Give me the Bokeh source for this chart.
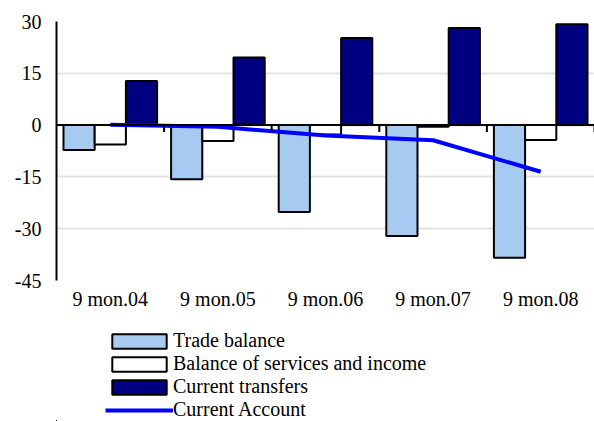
from bokeh.plotting import figure
from bokeh.layouts import column
from bokeh.models import (Range1d, FixedTicker, Span, Legend, LegendItem,
                          ColumnDataSource)
from bokeh.transform import dodge
from bokeh.embed import file_html
from bokeh.resources import INLINE

categories = ["9 mon.04", "9 mon.05", "9 mon.06", "9 mon.07", "9 mon.08"]
trade_balance = [-7.2, -15.7, -25.2, -32.1, -38.4]
services_income = [-5.6, -4.6, -2.7, -0.5, -4.3]
current_transfers = [12.8, 19.6, 25.2, 28.1, 29.2]
current_account = [0.1, -0.5, -3.0, -4.4, -13.5]
y_ticks = [-45, -30, -15, 0, 15, 30]
y_tick_labels = ["-45", "-30", "-15", "0", "15", "30"]
series_names = ["Trade balance", "Balance of services and income",
                "Current transfers", "Current Account"]

FONT = "Liberation Serif"
FS = "20px"
C_TB, C_SI, C_CT, C_CA = "#A6CAF0", "white", "#000080", "#0000FF"

xpos = [i + 0.5 for i in range(len(categories))]
bounds = [i + 1 for i in range(len(categories))]
src = ColumnDataSource(dict(x=xpos, tb=trade_balance, si=services_income,
                            ct=current_transfers, ca=current_account))

p = figure(width=594, height=320, output_backend="svg", toolbar_location=None,
           x_range=Range1d(0, len(categories)), y_range=Range1d(-45, 30),
           min_border_left=56, min_border_right=0, min_border_top=21,
           min_border_bottom=40)
p.outline_line_color = None
p.background_fill_color = "white"

# grid
p.xgrid.grid_line_color = None
p.ygrid.grid_line_color = "#e3e3e3"
p.ygrid.grid_line_width = 2
p.ygrid.ticker = FixedTicker(ticks=y_ticks)

# y axis
p.yaxis.ticker = FixedTicker(ticks=y_ticks)
p.yaxis.major_label_overrides = {t: l for t, l in zip(y_ticks, y_tick_labels)}
p.yaxis.axis_line_color = "black"
p.yaxis.axis_line_width = 2
p.yaxis.major_tick_line_color = None
p.yaxis.minor_tick_line_color = None
p.yaxis.major_tick_out = 0
p.yaxis.major_label_standoff = 15
p.yaxis.major_label_text_font = FONT
p.yaxis.major_label_text_font_size = FS
p.yaxis.major_label_text_color = "black"

# x axis: labels only
p.xaxis.ticker = FixedTicker(ticks=xpos)
p.xaxis.major_label_overrides = {x: c for x, c in zip(xpos, categories)}
p.xaxis.axis_line_color = None
p.xaxis.major_tick_line_color = None
p.xaxis.minor_tick_line_color = None
p.xaxis.major_tick_out = 0
p.xaxis.major_label_standoff = 7
p.xaxis.major_label_text_font = FONT
p.xaxis.major_label_text_font_size = FS
p.xaxis.major_label_text_color = "black"

w = 0.29


def draw_series(fig):
    r1 = fig.vbar(x=dodge("x", -w, range=p.x_range), top="tb", bottom=0, width=w,
                  source=src, fill_color=C_TB, line_color="black", line_width=2)
    r2 = fig.vbar(x="x", top="si", bottom=0, width=w, source=src,
                  fill_color=C_SI, line_color="black", line_width=2)
    r3 = fig.vbar(x=dodge("x", w, range=p.x_range), top="ct", bottom=0, width=w,
                  source=src, fill_color=C_CT, line_color="black", line_width=2)
    r4 = fig.line(x="x", y="ca", source=src, line_color=C_CA, line_width=4)
    return r1, r2, r3, r4


draw_series(p)

# zero line and category boundary ticks
p.add_layout(Span(location=0, dimension="width", line_color="black", line_width=2))
p.segment(x0=bounds, x1=bounds, y0=[0] * len(bounds), y1=[-2] * len(bounds),
          line_color="black", line_width=2)

# legend panel below the chart (its view window shows no data; it only hosts the legend)
q = figure(width=594, height=101, output_backend="svg", toolbar_location=None,
           x_range=Range1d(1000, 1001), y_range=Range1d(1000, 1001),
           min_border_left=0, min_border_right=0, min_border_top=0,
           min_border_bottom=0, x_axis_location=None, y_axis_location=None)
q.outline_line_color = None
q.grid.visible = False
leg_renderers = draw_series(q)

legend = Legend(items=[LegendItem(label=n, renderers=[r]) for n, r in
                       zip(series_names, leg_renderers)],
                location=(49, 0), orientation="vertical")
legend.border_line_color = None
legend.background_fill_alpha = 0
legend.padding = 0
legend.margin = 0
legend.spacing = 0
legend.glyph_width = 68
legend.glyph_height = 18
legend.label_height = 23
legend.label_standoff = 0
legend.label_text_font = FONT
legend.label_text_font_size = FS
legend.label_text_color = "black"
q.add_layout(legend, "center")

layout = column(p, q, spacing=0)
open("out.html", "w").write(file_html(layout, INLINE))
